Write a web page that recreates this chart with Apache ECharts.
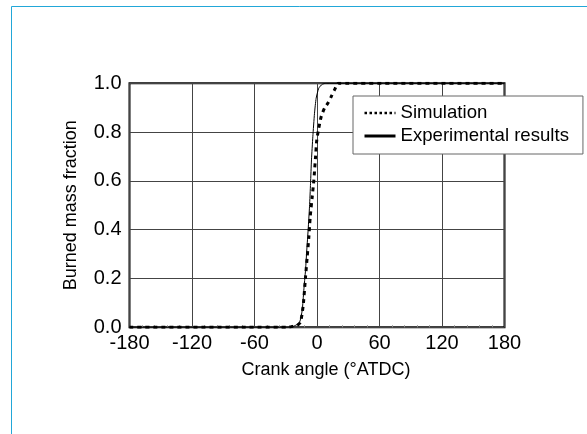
<!DOCTYPE html>
<html>
<head>
<meta charset="utf-8">
<script src="https://cdn.jsdelivr.net/npm/echarts@6/dist/echarts.min.js"></script>
<style>
html,body{margin:0;padding:0;background:#fff;}
#chart{width:587px;height:434px;}
</style>
</head>
<body>
<div id="chart"></div>
<script>
// Data
var xTicks = [-180, -120, -60, 0, 60, 120, 180];
var yTicks = [0.0, 0.2, 0.4, 0.6, 0.8, 1.0];
var seriesNames = ['Simulation', 'Experimental results'];

var simAngle = [-180, -28, -24, -19, -16, -14.5, -13, -11, -9.4, -7.8, -6.5, -4.6, -3, -1.4, -0.2, 1.7, 4, 7.2, 10.4, 13.6, 16.8, 20.6, 180];
var simValue = [0, 0, 0.003, 0.008, 0.02, 0.05, 0.1, 0.207, 0.289, 0.371, 0.453, 0.535, 0.604, 0.699, 0.768, 0.816, 0.863, 0.898, 0.918, 0.945, 0.973, 1.0, 1.0];

var expAngle = [-180, -28, -22, -16.8, -14.2, -12.7, -11, -9.8, -8.5, -7.2, -6.2, -5.3, -4, -2.4, -0.8, 1.7, 5, 8.8, 180];
var expValue = [0, 0, 0.005, 0.02, 0.07, 0.15, 0.235, 0.317, 0.4, 0.494, 0.59, 0.686, 0.781, 0.877, 0.939, 0.98, 0.996, 1.0, 1.0];

function pairs(a, b) { return a.map(function (v, i) { return [v, b[i]]; }); }

var FONT = "'Liberation Sans', Arial, Helvetica, sans-serif";
var chart = echarts.init(document.getElementById('chart'), null, {renderer: 'canvas'});
chart.setOption({
  animation: false,
  backgroundColor: '#ffffff',
  graphic: [{
    type: 'rect', silent: true, z: 100,
    shape: {x: 11.5, y: 6.5, width: 700, height: 600},
    style: {fill: 'none', stroke: '#22a7d8', lineWidth: 1}
  }],
  grid: {
    left: 129.5, right: 82.5, top: 83.3, bottom: 106.7,
    show: true, borderColor: '#000', borderWidth: 2, backgroundColor: 'transparent'
  },
  legend: {
    show: true,
    orient: 'vertical',
    left: 353, top: 96,
    backgroundColor: '#fff',
    borderColor: '#666', borderWidth: 1, borderRadius: 0,
    padding: [7, 14, 8, 10],
    itemWidth: 31, itemHeight: 14, itemGap: 3,
    textStyle: {fontFamily: FONT, fontSize: 18.6, color: '#000', lineHeight: 20},
    data: [
      {name: seriesNames[0], itemStyle: {opacity: 0}, lineStyle: {width: 2.5, type: [2.5, 2.5], color: '#000', opacity: 1}},
      {name: seriesNames[1], itemStyle: {opacity: 0}, lineStyle: {width: 3, type: 'solid', color: '#000', opacity: 1}}
    ]
  },
  xAxis: {
    type: 'value', min: xTicks[0], max: xTicks[xTicks.length - 1], interval: 60,
    name: 'Crank angle (\u00b0ATDC)', nameLocation: 'middle', nameGap: 34,
    nameTextStyle: {fontFamily: FONT, fontSize: 18, color: '#000', padding: [0, 0, 0, 18]},
    axisLine: {show: false},
    axisTick: {show: false, inside: true},
    minorTick: {show: true, splitNumber: 5, length: 2, lineStyle: {color: '#888', width: 1}},
    axisLabel: {fontFamily: FONT, fontSize: 20, color: '#000', margin: 6},
    splitLine: {show: true, lineStyle: {color: '#444', width: 1}}
  },
  yAxis: {
    type: 'value', min: yTicks[0], max: yTicks[yTicks.length - 1], interval: 0.2,
    name: 'Burned mass fraction', nameLocation: 'middle', nameGap: 49,
    nameTextStyle: {fontFamily: FONT, fontSize: 18, color: '#000'},
    axisLine: {show: false},
    axisTick: {show: false},
    axisLabel: {fontFamily: FONT, fontSize: 20, color: '#000', margin: 8, padding: [0, 0, 9, 0],
      formatter: function (v) { return v.toFixed(1); }},
    splitLine: {show: true, lineStyle: {color: '#444', width: 1}}
  },
  series: [
    {
      name: seriesNames[1], type: 'line', data: pairs(expAngle, expValue),
      symbol: 'none', smooth: 0.2, z: 3,
      itemStyle: {color: '#000'},
      lineStyle: {color: '#000', width: 1}
    },
    {
      name: seriesNames[0], type: 'line', data: pairs(simAngle, simValue),
      symbol: 'none', smooth: 0.2, z: 4,
      itemStyle: {color: '#000'},
      lineStyle: {color: '#000', width: 3, type: [4, 4]}
    }
  ]
});
</script>
</body>
</html>
